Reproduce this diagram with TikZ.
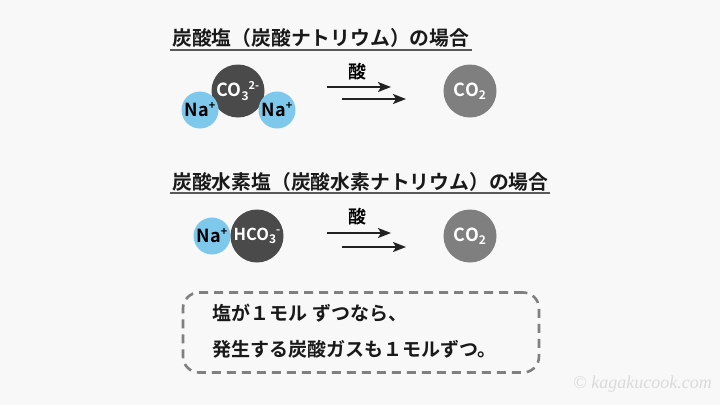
\documentclass[tikz,border=0pt]{standalone}
\usepackage{fontspec}
\setmainfont{Noto Sans CJK JP}[BoldFont={Noto Sans CJK JP Bold}]
\newfontfamily\wmfont{Liberation Serif}
\usetikzlibrary{arrows.meta}
\definecolor{bg}{HTML}{F8F8F8}
\definecolor{dark}{HTML}{4A4A4A}
\definecolor{co2}{HTML}{7F7F7F}
\definecolor{nablue}{HTML}{7EC9EB}
\definecolor{arrowc}{HTML}{222222}
\definecolor{boxc}{HTML}{808080}
\definecolor{wm}{HTML}{DADADA}
\tikzset{
  title/.style={anchor=west, inner sep=0pt, font=\fontsize{19.8}{22}\selectfont\bfseries, text=black!90},
  uline/.style={draw=black!65, line width=1.4pt},
  ion/.style={circle, inner sep=0pt, font=\fontsize{18}{20}\selectfont\bfseries},
  naion/.style={ion, fill=nablue, minimum size=37pt, text=black},
  bigion/.style={ion, fill=dark, minimum size=53pt, text=white},
  co2ion/.style={ion, fill=co2, minimum size=53pt, text=white},
  rarrow/.style={draw=arrowc, line width=2pt, -{Stealth[length=13pt,width=10pt,inset=3pt]}},
  acid/.style={inner sep=0pt, font=\fontsize{18}{20}\selectfont\bfseries},
  note/.style={anchor=west, inner sep=0pt, font=\fontsize{19}{22}\selectfont\bfseries, text=black!90},
  notebox/.style={draw=boxc, line width=2.6pt, dash pattern=on 9pt off 6pt, rounded corners=16pt, minimum width=356pt, minimum height=80pt, inner sep=0pt}
}
\newcommand{\sub}[1]{\raisebox{-3.5pt}{\fontsize{12}{13}\selectfont #1}}
\newcommand{\sups}[1]{\raisebox{7pt}{\fontsize{11}{12}\selectfont #1}}
\begin{document}
\begin{tikzpicture}[x=1pt,y=-1pt]
\useasboundingbox[fill=bg] (0,0) rectangle (720,405);

% ---- section 1
\node[title] (t1) at (172,38) {炭酸塩（炭酸ナトリウム）の場合};
\coordinate (u1a) at (170,50);
\coordinate (u1b) at (472,50);
\draw[uline] (u1a) -- (u1b);

\node[bigion] (co3) at (238,91) {CO\sub{3}\sups{2-}};
\node[naion] (na1) at (200,110) {Na\sups{+}};
\node[naion] (na2) at (277,110) {Na\sups{+}};

\node[acid] (acid1) at (357,72) {酸};
\coordinate (a1s) at (327,87); \coordinate (a1e) at (391,87);
\coordinate (b1s) at (342,99); \coordinate (b1e) at (406,99);
\draw[rarrow] (a1s) -- (a1e);
\draw[rarrow] (b1s) -- (b1e);

\node[co2ion] (co2a) at (470,91) {CO\sub{2}};

% ---- section 2
\node[title] (t2) at (172,182) {炭酸水素塩（炭酸水素ナトリウム）の場合};
\coordinate (u2a) at (170,193);
\coordinate (u2b) at (550,193);
\draw[uline] (u2a) -- (u2b);

\node[naion] (na3) at (212,236) {Na\sups{+}};
\node[bigion, font=\fontsize{16.5}{18}\selectfont\bfseries] (hco3) at (257,236) {HCO\sub{3}\sups{-}};

\node[acid] (acid2) at (357,217) {酸};
\coordinate (a2s) at (327,233); \coordinate (a2e) at (391,233);
\coordinate (b2s) at (342,247); \coordinate (b2e) at (406,247);
\draw[rarrow] (a2s) -- (a2e);
\draw[rarrow] (b2s) -- (b2e);

\node[co2ion] (co2b) at (470,236) {CO\sub{2}};

% ---- note box
\node[notebox] (box) at (361,332.5) {};
\node[note] (n1) at (212,313) {塩が１モル\hspace{5pt}ずつなら、};
\node[note] (n2) at (212,349) {発生する炭酸ガスも１モルずつ。};

% ---- watermark
\node[anchor=east, inner sep=0pt, text=wm, font=\wmfont\itshape\fontsize{18}{19}\selectfont] (wm) at (712,384) {© kagakucook.com};
\end{tikzpicture}
\end{document}
